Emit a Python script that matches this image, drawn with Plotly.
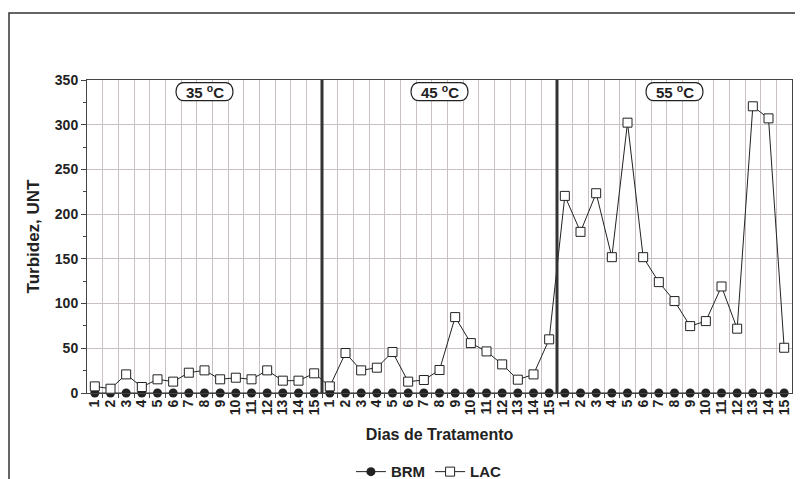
import plotly.graph_objects as go

# dias de tratamento (3 temperaturas x 15 dias)
temperaturas = ['35', '45', '55']
dias = list(range(1, 16))

brm = [0] * 45

lac_35 = [7.4, 4.8, 20.8, 6.7, 15.3, 12.7, 22.7, 25.3, 15.3, 17.1, 15.3, 25.3, 13.8, 13.8, 22.0]
lac_45 = [7.4, 44.7, 25.3, 28.3, 45.8, 12.7, 14.5, 25.7, 84.9, 55.8, 46.5, 32.0, 14.9, 20.8, 60.0]
lac_55 = [220.4, 180.2, 223.4, 151.9, 302.3, 151.9, 124.0, 102.8, 74.8, 80.4, 119.1, 71.9, 320.6, 307.1, 50.6]
lac = lac_35 + lac_45 + lac_55

x = list(range(len(lac)))
tick_text = [str(d) for d in dias] * len(temperaturas)

font = 'Liberation Sans, Arial, sans-serif'
grid_col = '#c9c0c0'

fig = go.Figure()
fig.add_trace(go.Scatter(x=x, y=brm, name='<b>BRM</b>', mode='lines+markers', cliponaxis=False,
                         line=dict(color='#222', width=1),
                         marker=dict(symbol='circle', size=9, color='#222')))
fig.add_trace(go.Scatter(x=x, y=lac, name='<b>LAC</b>', mode='lines+markers', cliponaxis=False,
                         line=dict(color='#222', width=1),
                         marker=dict(symbol='square', size=9, color='white',
                                     line=dict(color='#222', width=1))))

# a pagina desloca a figura 8px (margem do body), entao 795x471
fig.update_layout(
    width=795, height=471,
    margin=dict(l=79, r=11, t=72, b=86, autoexpand=False),
    paper_bgcolor='white', plot_bgcolor='white',
    font=dict(family=font, size=14, color='#222'),
    showlegend=True,
    legend=dict(orientation='h', x=0.485, xanchor='center', y=-0.252, yanchor='middle',
                font=dict(size=15), itemwidth=30, tracegroupgap=0),
)

fig.update_xaxes(range=[-0.5, len(x) - 0.5], tickmode='array', tickvals=x, ticktext=tick_text,
                 tickangle=-90, tickfont=dict(size=14, family=font, weight='bold'),
                 showgrid=False, ticks='', zeroline=False, automargin=False,
                 showline=True, linecolor='#444', linewidth=1, mirror=True,
                 minor=dict(tickmode='array', tickvals=[i - 0.5 for i in x[1:]],
                            showgrid=True, gridcolor=grid_col, gridwidth=1,
                            ticks='outside', ticklen=4, tickcolor='#444'),
                 title=dict(text='<b>Dias de Tratamento</b>', font=dict(size=16), standoff=14))

fig.update_yaxes(range=[0, 350], dtick=50, tickfont=dict(size=14, weight='bold'),
                 showgrid=True, gridcolor=grid_col, gridwidth=1, zeroline=False,
                 ticks='outside', ticklen=5, tickcolor='#444', automargin=False,
                 showline=True, linecolor='#444', linewidth=1, mirror=True,
                 minor=dict(dtick=25, ticks='outside', ticklen=3, tickcolor='#444', showgrid=False),
                 title=dict(text='<b>Turbidez, UNT</b>', font=dict(size=17), standoff=10))

# linhas separando as temperaturas
for k in range(1, len(temperaturas)):
    xs = k * len(dias) - 0.5
    fig.add_shape(type='line', xref='x', yref='y', x0=xs, x1=xs, y0=0, y1=350,
                  line=dict(color='#333', width=3))

# rotulos de temperatura em caixa arredondada
w, h, r = 29, 9, 8
pill = (f'M {-w + r},{-h} L {w - r},{-h} C {w + 2},{-h} {w + 2},{h} {w - r},{h} '
        f'L {-w + r},{h} C {-w - 2},{h} {-w - 2},{-h} {-w + r},{-h} Z')
for k, t in enumerate(temperaturas):
    xc = k * len(dias) + 7
    fig.add_shape(type='path', xref='x', yref='y', xsizemode='pixel', ysizemode='pixel',
                  xanchor=xc, yanchor=337, path=pill,
                  line=dict(color='#222', width=1.2), fillcolor='white')
    fig.add_annotation(x=xc, y=337, xref='x', yref='y', showarrow=False,
                       text=f'<b>{t} <sup>o</sup>C</b>', font=dict(size=15, color='#222'))

# moldura externa
fig.add_shape(type='rect', xref='paper', yref='paper',
              x0=-78 / 705, x1=1.05, y0=-0.35, y1=1 + 67 / 313,
              line=dict(color='#333', width=1.5), layer='below')

fig.write_html('out.html')
